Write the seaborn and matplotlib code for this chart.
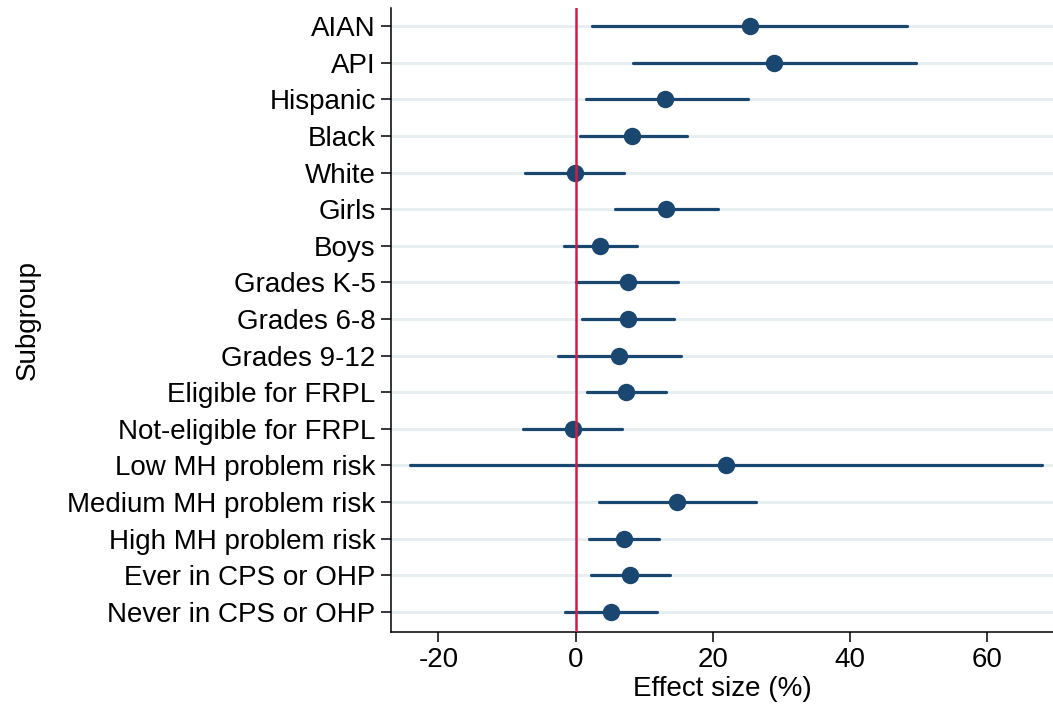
import numpy as np
import pandas as pd
import matplotlib
matplotlib.use("Agg")
import matplotlib.pyplot as plt
import seaborn as sns

subgroups = ["AIAN", "API", "Hispanic", "Black", "White", "Girls", "Boys",
             "Grades K-5", "Grades 6-8", "Grades 9-12", "Eligible for FRPL",
             "Not-eligible for FRPL", "Low MH problem risk", "Medium MH problem risk",
             "High MH problem risk", "Ever in CPS or OHP", "Never in CPS or OHP"]
effect = [25.4, 29.0, 13.1, 8.3, -0.1, 13.2, 3.6, 7.6, 7.6, 6.4, 7.4, -0.3,
          21.9, 14.8, 7.0, 7.9, 5.1]
ci_low = [2.4, 8.4, 1.5, 0.7, -7.3, 5.7, -1.7, 0.1, 1.0, -2.5, 1.6, -7.6,
          -24.2, 3.4, 1.9, 2.2, -1.6]
ci_high = [48.3, 49.6, 25.2, 16.2, 7.0, 20.8, 9.0, 15.0, 14.3, 15.4, 13.2, 6.8,
           68.0, 26.3, 12.2, 13.7, 11.9]
xticks = [-20, 0, 20, 40, 60]

# long table: median of (low, est, high) = est, full range = CI
df = pd.DataFrame({
    "Subgroup": subgroups * 3,
    "Effect": ci_low + effect + ci_high,
})

sns.set_theme(style="white")
plt.rcParams["font.family"] = ["Liberation Sans", "DejaVu Sans"]
plt.rcParams["text.color"] = "black"
plt.rcParams["axes.labelcolor"] = "black"
plt.rcParams["xtick.color"] = "black"
plt.rcParams["ytick.color"] = "black"

navy = "#1a476f"
fig = plt.figure(figsize=(10.53, 7.10), dpi=100)
ax = fig.add_axes([391 / 1053, 78 / 710, 1 - 391 / 1053, (632 - 8) / 710])

sns.pointplot(data=df, x="Effect", y="Subgroup", order=subgroups,
              estimator="median", errorbar=("pi", 100), orient="h",
              linestyle="none", color=navy, markers="o", markersize=10.5,
              err_kws={"linewidth": 2.3, "zorder": 2}, ax=ax)
for coll in ax.collections:
    coll.set_zorder(4)
for ln in ax.lines:
    ln.set_zorder(2)

ax.axvline(0, color="#d41c44", lw=1.8, zorder=3)

ax.set_xlim(-26.9, 69.6)
ax.set_ylim(len(subgroups) - 0.45, -0.5)
ax.set_xticks(xticks)
ax.set_xticklabels([str(t) for t in xticks])
ax.grid(axis="y", color="#e6eef0", lw=2)
ax.grid(axis="x", visible=False)
ax.set_axisbelow(True)

for s in ["top", "right"]:
    ax.spines[s].set_visible(False)
for s in ["left", "bottom"]:
    ax.spines[s].set_color("black")
    ax.spines[s].set_linewidth(1.1)

ax.tick_params(axis="both", which="major", length=7, width=1.1, color="black",
               labelcolor="black", labelsize=20, pad=4, direction="out",
               left=True, bottom=True)
ax.set_xlabel("Effect size (%)", fontsize=20, labelpad=2, color="black")
ax.set_ylabel("Subgroup", fontsize=20, labelpad=19, color="black")

fig.savefig("out.png", dpi=100)
